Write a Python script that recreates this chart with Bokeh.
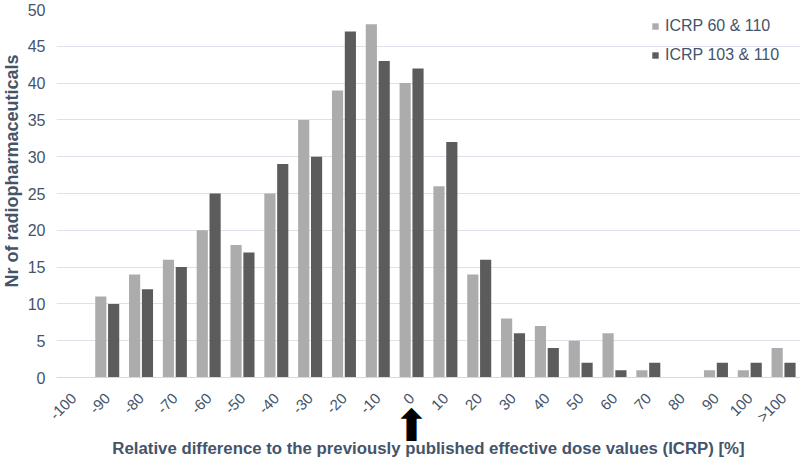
from math import pi
from bokeh.plotting import figure
from bokeh.models import (Range1d, FixedTicker, Legend, LegendItem,
                          Title, LinearAxis, ColumnDataSource)
from bokeh.transform import dodge
from bokeh.embed import file_html
from bokeh.resources import INLINE

# ---- data ----
categories = ["-100", "-90", "-80", "-70", "-60", "-50", "-40", "-30", "-20", "-10",
              "0", "10", "20", "30", "40", "50", "60", "70", "80", "90", "100", ">100"]
icrp_60_110 = [0, 11, 14, 16, 20, 18, 25, 35, 39, 48, 40, 26, 14, 8, 7, 5, 6, 1, 0, 1, 1, 4]
icrp_103_110 = [0, 10, 12, 15, 25, 17, 29, 30, 47, 43, 42, 32, 16, 6, 4, 2, 1, 2, 0, 2, 2, 2]
series_names = ["ICRP 60 & 110", "ICRP 103 & 110"]
y_ticks = [0, 5, 10, 15, 20, 25, 30, 35, 40, 45, 50]
x_title = "Relative difference to the previously published effective dose values (ICRP) [%]"
y_title = "Nr of radiopharmaceuticals"
arrow_category = "0"

TEXT = "#44546A"
FONT = "Liberation Sans"

W, H = 800, 462
LEFT, TOP, BOTTOM = 56, 9, 85

positions = list(range(len(categories)))
src = ColumnDataSource(dict(pos=positions, cat=categories, a=icrp_60_110, b=icrp_103_110))

p = figure(width=W, height=H, x_range=Range1d(-0.5, len(categories) - 0.5),
           y_range=Range1d(0, 50), output_backend="svg", toolbar_location=None,
           min_border_left=LEFT, min_border_right=0, min_border_top=TOP,
           min_border_bottom=BOTTOM)
p.outline_line_color = None
p.background_fill_color = "white"

r1 = p.vbar(x=dodge("pos", -0.19), top="a", width=0.33, source=src,
            fill_color="#acacac", line_color=None)
r2 = p.vbar(x=dodge("pos", 0.19), top="b", width=0.33, source=src,
            fill_color="#5c5c5c", line_color=None)

# grid
p.xgrid.grid_line_color = None
p.ygrid.grid_line_color = "#dde1ea"
p.ygrid.grid_line_width = 1
p.ygrid.level = "underlay"

# y axis
p.yaxis.ticker = FixedTicker(ticks=y_ticks, minor_ticks=[])
p.yaxis.axis_line_color = None
p.yaxis.major_tick_line_color = None
p.yaxis.minor_tick_line_color = None
p.yaxis.major_tick_out = 0
p.yaxis.major_tick_in = 0
p.yaxis.major_label_standoff = 11
p.yaxis.major_label_text_font = FONT
p.yaxis.major_label_text_font_size = "16px"
p.yaxis.major_label_text_color = TEXT

# x axis (category tick labels)
p.xaxis.ticker = FixedTicker(ticks=positions, minor_ticks=[])
p.xaxis.major_label_overrides = {i: c for i, c in zip(positions, categories)}
p.xaxis.axis_line_color = "#d9d9d9"
p.xaxis.major_tick_line_color = None
p.xaxis.minor_tick_line_color = None
p.xaxis.major_tick_out = 0
p.xaxis.major_tick_in = 0
p.xaxis.major_label_orientation = pi / 4
p.xaxis.major_label_standoff = 18
p.xaxis.major_label_text_font = FONT
p.xaxis.major_label_text_font_size = "15px"
p.xaxis.major_label_text_color = TEXT

# second x axis: arrow under the "0" category and the axis title
arrow_pos = categories.index(arrow_category)
ax2 = LinearAxis(ticker=FixedTicker(ticks=[arrow_pos], minor_ticks=[]),
                 major_label_overrides={arrow_pos: "\u2B06"})
ax2.axis_line_color = None
ax2.major_tick_line_color = None
ax2.minor_tick_line_color = None
ax2.major_tick_out = 0
ax2.major_tick_in = 0
ax2.major_label_standoff = -35
ax2.major_label_text_font = "DejaVu Sans"
ax2.major_label_text_font_size = "44px"
ax2.major_label_text_color = "black"
ax2.axis_label = x_title
ax2.axis_label_text_font = FONT
ax2.axis_label_text_font_style = "bold"
ax2.axis_label_text_font_size = "16.8px"
ax2.axis_label_text_color = TEXT
ax2.axis_label_standoff = -15
p.add_layout(ax2, "below")

# y title
p.add_layout(Title(text=y_title, align="left", offset=90, standoff=2, vertical_align="top",
                   text_font=FONT, text_font_size="18px", text_font_style="bold",
                   text_color=TEXT), "left")

legend = Legend(items=[LegendItem(label=series_names[0], renderers=[r1]),
                       LegendItem(label=series_names[1], renderers=[r2])],
                location=(595, 313), padding=0, margin=0, spacing=10,
                glyph_width=8, glyph_height=8, label_height=19, label_standoff=6,
                label_text_font=FONT, label_text_font_size="16px",
                label_text_color=TEXT, background_fill_alpha=0, border_line_color=None)
p.add_layout(legend)

open("out.html", "w").write(file_html(p, INLINE))
